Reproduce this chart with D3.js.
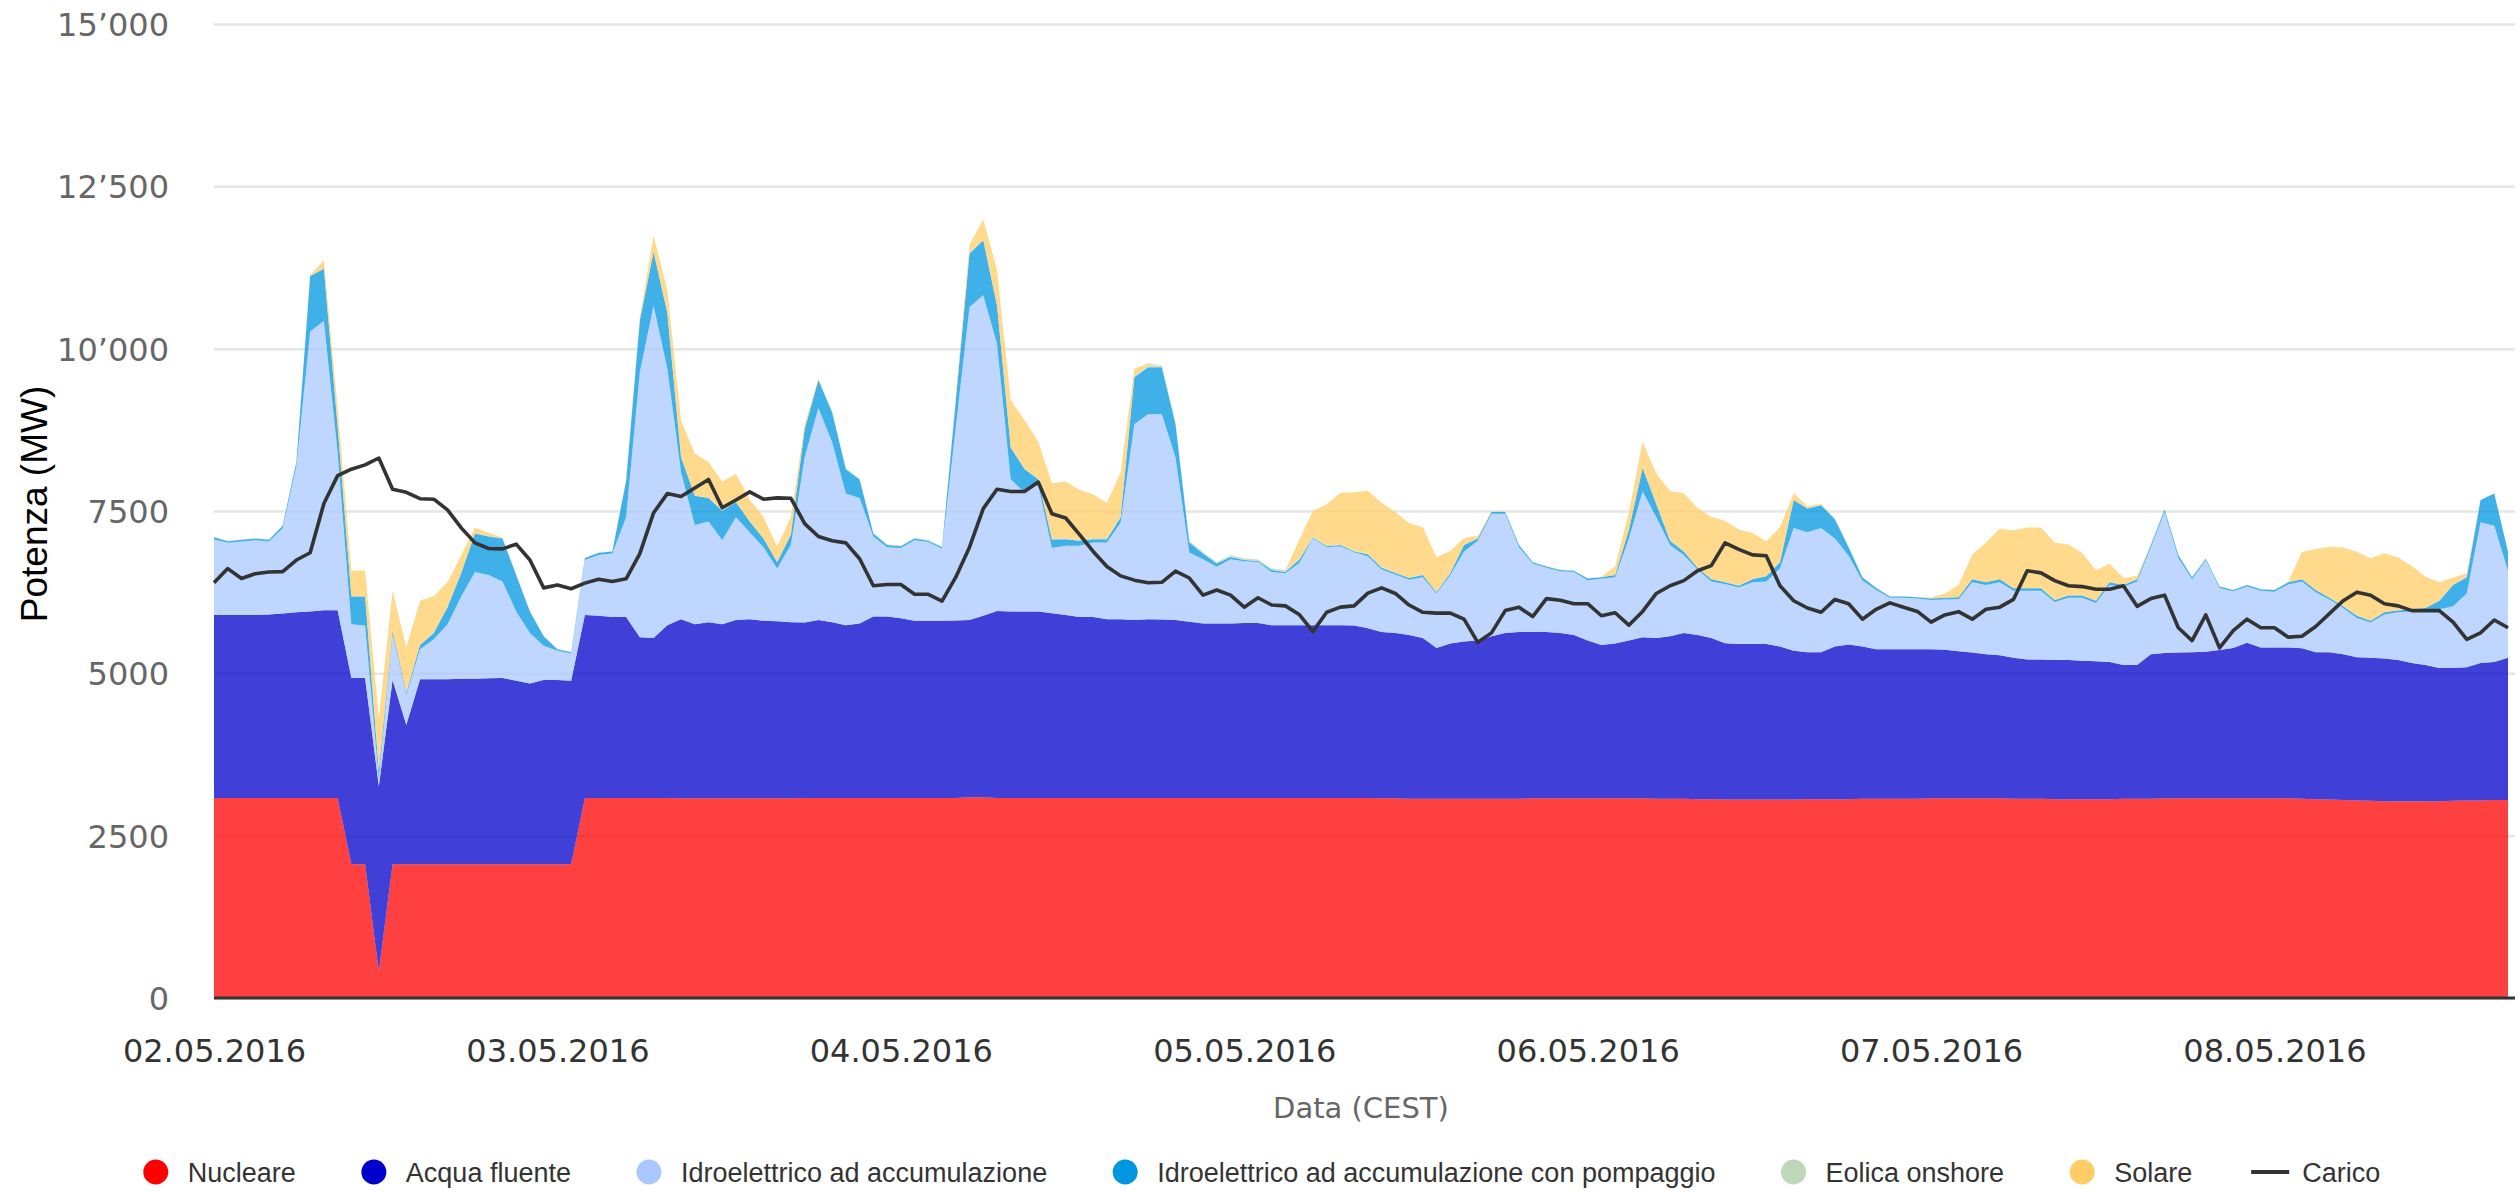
<!DOCTYPE html>
<html>
<head>
<meta charset="utf-8">
<script src="https://cdn.jsdelivr.net/npm/d3@7"></script>
<style>
  body { margin: 0; background: #fff; }
</style>
</head>
<body>
<script>
// hourly values (MW), 168 points from 02.05.2016 00:00
const nuclear = [
  3082,3082,3082,3082,3082,3082,3082,3082,3082,3082,2059,2059, 409,2059,2059,2059,2059,2059,2059,2059,2059,2059,2059,2059,
  2059,2059,2059,3082,3082,3082,3082,3082,3082,3082,3075,3075, 3075,3075,3075,3075,3075,3075,3075,3082,3082,3082,3082,3082,
  3082,3082,3082,3082,3082,3082,3082,3090,3090,3082,3082,3082, 3082,3082,3082,3082,3082,3082,3082,3082,3082,3082,3082,3082,
  3082,3082,3082,3082,3082,3082,3082,3082,3082,3082,3082,3082, 3082,3075,3075,3069,3069,3069,3069,3069,3069,3069,3069,3069,
  3075,3075,3075,3075,3075,3075,3075,3075,3075,3069,3069,3069, 3062,3062,3056,3056,3056,3056,3056,3056,3062,3062,3062,3062,
  3069,3069,3069,3069,3069,3075,3075,3075,3075,3075,3075,3069, 3069,3069,3062,3062,3062,3062,3062,3069,3069,3069,3075,3075,
  3075,3075,3075,3075,3075,3075,3075,3075,3069,3062,3056,3049, 3042,3036,3029,3029,3029,3029,3029,3036,3042,3042,3049,3049
];
const acquaFluente = [
  2818,2818,2818,2818,2825,2838,2858,2871,2891,2891,2871,2871, 2851,2838,2145,2851,2851,2851,2858,2858,2864,2871,2825,2785,
  2838,2838,2825,2818,2805,2785,2785,2475,2462,2660,2759,2680, 2713,2680,2746,2759,2733,2726,2713,2700,2739,2706,2660,2686,
  2792,2792,2766,2726,2726,2726,2733,2731,2797,2878,2871,2871, 2871,2845,2818,2785,2785,2752,2752,2739,2752,2746,2739,2713,
  2686,2686,2686,2693,2693,2660,2660,2660,2660,2660,2660,2653, 2613,2561,2548,2521,2475,2323,2389,2422,2435,2501,2554,2567,
  2561,2561,2548,2515,2429,2363,2383,2429,2482,2475,2501,2554, 2528,2482,2409,2396,2396,2396,2356,2290,2264,2264,2350,2383,
  2343,2303,2303,2303,2303,2297,2290,2265,2245,2218,2205,2171, 2145,2145,2145,2145,2132,2126,2112,2059,2059,2224,2238,2245,
  2251,2258,2284,2317,2396,2324,2324,2324,2317,2264,2270,2244, 2205,2204,2198,2178,2132,2099,2053,2046,2053,2119,2125,2191
];
const accumulazione = [
  1160,1110,1130,1149,1123,1314,2257,4312,4452,2427, 825, 805,  120, 713, 462, 462, 614, 845,1267,1643,1591,1485,1069, 779,
   528, 449, 422, 845, 937, 977,1538,4080,5122,3958,2264,1531, 1551,1300,1584,1340,1135, 812,1192,2547,3267,2772,2026,1934,
  1234,1069,1082,1241,1214,1109,2975,4820,4934,4114,2037,1831, 1952,1003,1063,1096,1147,1180,1489,3016,3157,3163,2501,1065,
   989, 875, 989, 951, 941, 820, 799, 958,1333,1201,1214,1129, 1110, 964, 898, 852, 937, 838,1056,1386,1538,1888,1835,1307,
  1056, 990, 951, 970, 931,1017,1023,1571,2244,1861,1406,1201, 1010, 871, 911, 871, 950, 963,1201,1894,1848,1914,1663,1366,
  1016, 911, 792, 792, 779, 759, 773, 800,1082,1069,1122,1030, 1056,1056, 891, 957, 970, 897,1188,1201,1287,1650,2171,1458,
  1122,1412, 957, 871, 865, 871, 858, 970,1029, 924, 812, 713,  607, 542, 680, 733, 792, 838, 904, 950,1135,2165,2099,1340
];
const pompaggio = [
   35, 26, 26, 26, 26, 39, 66,855,807,400,429,449, 120, 46, 34, 66, 99,264,363,594,594,660,561,330,
  145, 26, 20, 33, 33, 33,561,797,824,850,231,449, 363,449,231,165,132, 99,160,429,429,462,376,284,
   46, 33, 26, 26, 20, 26,410,823,849,592,488,361,  85,130,103, 77, 52, 52, 77,723,723,723,515,154,
   88, 47, 36, 21, 15, 30, 21, 50, 13, 13, 20, 13,  29, 26, 26, 26, 33, 20, 33, 99, 33, 26, 26, 33,
   20, 20, 19, 20, 26, 26, 33,132,363,198, 66, 53,  26, 33, 26, 26, 46, 79, 99,429,363,350,297,132,
   53, 33, 20, 20, 20, 20, 26, 30, 46, 40, 46, 40,  40, 40, 33, 33, 33, 33, 40, 33, 33, 33, 40, 46,
   33, 20, 20, 20, 26, 26, 26, 33, 33, 33, 26, 26,  33, 26, 33, 26, 33, 40,132,330,251,343,495,297
];
const eolica = [
   4, 4, 5, 5, 6, 6, 5, 4, 4, 3, 3, 3,  3, 3, 4, 4, 5, 5, 6, 6, 7, 7, 6, 6,
   5, 5, 4, 4, 4, 3, 3, 3, 3, 4, 4, 5,  5, 5, 6, 6, 7, 8, 8, 9,10,10,11,12,
  12,13,13,12,12,11,11,10,10,10,11,12, 13,14,15,16,18,20,22,24,26,27,26,26,
  25,26,26,24,25,27,30,22,18,15,13,12, 11,10,10, 9, 9, 8, 8, 8, 7, 7, 7, 6,
   6, 6, 6, 5, 5, 5, 5, 5, 6, 6, 7, 7,  8, 8, 8, 9, 9, 9, 8, 8, 8, 7, 7, 7,
   7, 6, 6, 6, 6, 5, 5, 5, 5, 5, 6, 6,  6, 7, 7, 7, 8, 8, 8, 8, 7, 7, 7, 6,
   6, 6, 5, 5, 5, 5, 5, 5, 5, 6, 6, 6,  7, 7, 7, 7, 7, 6, 6, 6, 6, 5, 5, 5
];
const solare = [
  0,0,0,0,0,0,  0, 10,129,300,396,396, 800,614,692,674,561,383,264, 86, 46, 10,0,0,
  0,0,0,0,0,0, 24, 51,247,350,561,640, 548,442,429,330,330,231,265, 66, 13,  0,0,0,
  0,0,0,0,0,0, 60,128,309,541,721,743, 568,855,874,772,669,540,670,102, 36,  0,0,0,
  0,0,0,0,0,0,  0,280,396,634,792,898, 967,990,924,838,726,528,330, 99, 33,  6,0,0,
  0,0,0,0,0,0,132,264,396,462,759,891, 911,957,937,858,706,528,528, 99, 33, 10,0,0,
  0,0,0,0,0,13,61,180,376,607,772,884, 930,930,878,779,647,462,277, 99, 46,  0,0,0,
  0,0,0,0,0,0,  0,  0,416,627,779,898, 977,957,904,812,660,475,277,106, 53,  0,0,0
];
const carico = [
  6395,6613,6461,6534,6560,6567,6745,6857,7616,8045,8144,8210, 8316,7834,7788,7689,7682,7517,7240,7009,6923,6917,6989,6745,
  6316,6362,6303,6389,6448,6415,6455,6844,7471,7768,7722,7854, 7986,7550,7669,7795,7682,7702,7696,7306,7108,7042,7009,6765,
  6349,6369,6369,6217,6217,6112,6481,6943,7537,7834,7801,7801, 7946,7458,7392,7141,6877,6646,6501,6435,6395,6402,6574,6468,
  6204,6283,6204,6019,6164,6052,6039,5907,5643,5940,6019,6039, 6235,6316,6230,6052,5940,5927,5927,5834,5478,5623,5966,6019,
  5874,6151,6125,6072,6072,5887,5933,5742,5953,6230,6349,6428, 6580,6659,7009,6910,6824,6811,6349,6118,6006,5940,6138,6072,
  5834,5986,6085,6019,5953,5788,5900,5950,5834,5986,6019,6138, 6580,6547,6428,6349,6336,6296,6296,6349,6032,6151,6204,5702,
  5504,5900,5392,5656,5834,5702,5702,5557,5570,5722,5920,6118, 6250,6204,6072,6039,5966,5966,5966,5788,5524,5623,5821,5702
];

const seriesKeys = ["nuclear", "acquaFluente", "accumulazione", "pompaggio", "eolica", "solare"];
const seriesNames = ["Nucleare", "Acqua fluente", "Idroelettrico ad accumulazione",
  "Idroelettrico ad accumulazione con pompaggio", "Eolica onshore", "Solare"];
const seriesColors = ["#ff0000", "#0000cc", "#aac8ff", "#0096e0", "#bdd7b8", "#ffcc66"];

const dayLabels = ["02.05.2016", "03.05.2016", "04.05.2016", "05.05.2016", "06.05.2016", "07.05.2016", "08.05.2016"];
const labelEvery = 25;   // a date label every 25 points
const yTicks = [0, 2500, 5000, 7500, 10000, 12500, 15000];

const width = 2519, height = 1192;
const plotLeft = 214, plotRight = 2515, plotTop = 24, plotBottom = 998;

const values = {nuclear, acquaFluente, accumulazione, pompaggio, eolica, solare};
const rows = carico.map((c, i) => {
  const r = {i, carico: c};
  seriesKeys.forEach(k => r[k] = values[k][i]);
  return r;
});

const x = d3.scaleLinear()
  .domain([0, rows.length - 1])
  .range([plotLeft, 2508]);
const y = d3.scaleLinear()
  .domain([0, 15000])
  .range([plotBottom, plotTop]);

const svg = d3.select("body").append("svg")
  .attr("width", width)
  .attr("height", height)
  .attr("viewBox", [0, 0, width, height]);

// grid + y labels
const apos = d3.formatLocale({decimal: ".", thousands: "\u2019", grouping: [3], currency: ["", ""]}).format(",");
const yAxis = svg.append("g")
  .attr("transform", `translate(${plotLeft},0)`)
  .call(d3.axisLeft(y)
    .tickValues(yTicks)
    .tickSize(-(plotRight - plotLeft))
    .tickPadding(45)
    .tickFormat(d => d >= 10000 ? apos(d) : String(d)));
yAxis.select(".domain").remove();
yAxis.selectAll(".tick line").attr("stroke", "#e6e6e6").attr("stroke-width", 2.5);
yAxis.selectAll(".tick text")
  .attr("fill", "#666")
  .attr("font-family", "DejaVu Sans")
  .attr("font-size", 32)
  .attr("dy", "0.36em");

// stacked areas
const stacked = d3.stack().keys(seriesKeys)(rows);
const area = d3.area()
  .x(d => x(d.data.i))
  .y0(d => y(d[0]))
  .y1(d => y(d[1]));

svg.append("g")
  .selectAll("path")
  .data(stacked)
  .join("path")
  .attr("d", area)
  .attr("fill", (d, k) => seriesColors[k])
  .attr("fill-opacity", 0.75);

// load line
const line = d3.line()
  .x(d => x(d.i))
  .y(d => y(d.carico));
svg.append("path")
  .datum(rows)
  .attr("d", line)
  .attr("fill", "none")
  .attr("stroke", "#333")
  .attr("stroke-width", 3.6)
  .attr("stroke-linejoin", "round");

// x axis
const xAxis = svg.append("g")
  .attr("transform", `translate(0,${plotBottom})`)
  .call(d3.axisBottom(x)
    .tickValues(dayLabels.map((_, k) => k * labelEvery))
    .tickSize(0)
    .tickPadding(41)
    .tickFormat((d, k) => dayLabels[k]));
xAxis.select(".domain").remove();
xAxis.selectAll(".tick text")
  .attr("fill", "#333")
  .attr("font-family", "DejaVu Sans")
  .attr("font-size", 32);
svg.append("line")
  .attr("x1", plotLeft).attr("x2", plotRight)
  .attr("y1", plotBottom).attr("y2", plotBottom)
  .attr("stroke", "#333")
  .attr("stroke-width", 3);

// axis titles
svg.append("text")
  .attr("transform", `translate(47,504) rotate(-90)`)
  .attr("text-anchor", "middle")
  .attr("font-family", "Liberation Sans")
  .attr("font-size", 37)
  .attr("fill", "#000")
  .text("Potenza (MW)");

svg.append("text")
  .attr("x", (plotLeft + 2508) / 2)
  .attr("y", 1118)
  .attr("text-anchor", "middle")
  .attr("font-family", "DejaVu Sans")
  .attr("font-size", 29)
  .attr("fill", "#666")
  .text("Data (CEST)");

// legend
const legendItems = seriesNames.map((name, k) => ({name, color: seriesColors[k], line: false}))
  .concat([{name: "Carico", color: "#333", line: true}]);
const legend = svg.append("g");
let cursor = 0;
legendItems.forEach(item => {
  const g = legend.append("g").attr("transform", `translate(${cursor},0)`);
  if (item.line) {
    g.append("line")
      .attr("x1", -6).attr("x2", 32)
      .attr("stroke", item.color)
      .attr("stroke-width", 4);
  } else {
    g.append("circle")
      .attr("cx", 13)
      .attr("r", 12.5)
      .attr("fill", item.color);
  }
  const t = g.append("text")
    .attr("x", 45)
    .attr("dy", "0.36em")
    .attr("font-family", "Liberation Sans")
    .attr("font-size", 27)
    .attr("fill", "#333")
    .text(item.name);
  cursor += 45 + t.node().getComputedTextLength() + 65;
});
const legendWidth = cursor - 65;
legend.attr("transform", `translate(${1261.5 - legendWidth / 2},1172)`);
</script>
</body>
</html>
